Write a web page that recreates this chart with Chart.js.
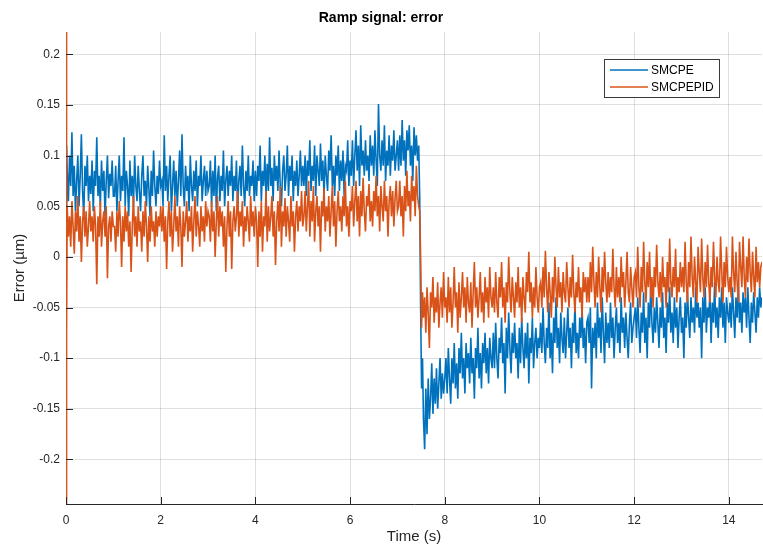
<!DOCTYPE html>
<html><head><meta charset="utf-8">
<script src="https://cdn.jsdelivr.net/npm/chart.js@4"></script>
<style>html,body{margin:0;padding:0;background:#fff}canvas{display:block}</style>
</head><body>
<canvas id="c" width="763" height="546"></canvas>
<script>
const chartTitle = 'Ramp signal: error';
const xLabel = 'Time (s)';
const yLabel = 'Error (µm)';
const seriesNames = ['SMCPE', 'SMCPEPID'];
const seriesColors = ['#0072BD', '#D95319'];
const xTicks = [0, 2, 4, 6, 8, 10, 12, 14];
const xTickLabels = ['0', '2', '4', '6', '8', '10', '12', '14'];
const yTicks = [-0.2, -0.15, -0.1, -0.05, 0, 0.05, 0.1, 0.15, 0.2];
const yTickLabels = ['-0.2', '-0.15', '-0.1', '-0.05', '0', '0.05', '0.1', '0.15', '0.2'];
const xRange = [0, 14.7];
const yRange = [-0.244, 0.222];

const time = [
  0, 0.008, 0.016,
  0.025,0.05,0.075,0.1,0.125,0.15,0.175,0.2,0.225,0.25,0.275,0.3,0.325,0.35,0.375,0.4,0.425,0.45,0.475,0.5,0.525,0.55,0.575,0.6,0.625,0.65,0.675,0.7,0.725,0.75,0.775,0.8,0.825,0.85,0.875,0.9,0.925,0.95,0.975,1,
  1.025,1.05,1.075,1.1,1.125,1.15,1.175,1.2,1.225,1.25,1.275,1.3,1.325,1.35,1.375,1.4,1.425,1.45,1.475,1.5,1.525,1.55,1.575,1.6,1.625,1.65,1.675,1.7,1.725,1.75,1.775,1.8,1.825,1.85,1.875,1.9,1.925,1.95,1.975,2,
  2.025,2.05,2.075,2.1,2.125,2.15,2.175,2.2,2.225,2.25,2.275,2.3,2.325,2.35,2.375,2.4,2.425,2.45,2.475,2.5,2.525,2.55,2.575,2.6,2.625,2.65,2.675,2.7,2.725,2.75,2.775,2.8,2.825,2.85,2.875,2.9,2.925,2.95,2.975,3,
  3.025,3.05,3.075,3.1,3.125,3.15,3.175,3.2,3.225,3.25,3.275,3.3,3.325,3.35,3.375,3.4,3.425,3.45,3.475,3.5,3.525,3.55,3.575,3.6,3.625,3.65,3.675,3.7,3.725,3.75,3.775,3.8,3.825,3.85,3.875,3.9,3.925,3.95,3.975,4,
  4.025,4.05,4.075,4.1,4.125,4.15,4.175,4.2,4.225,4.25,4.275,4.3,4.325,4.35,4.375,4.4,4.425,4.45,4.475,4.5,4.525,4.55,4.575,4.6,4.625,4.65,4.675,4.7,4.725,4.75,4.775,4.8,4.825,4.85,4.875,4.9,4.925,4.95,4.975,5,
  5.025,5.05,5.075,5.1,5.125,5.15,5.175,5.2,5.225,5.25,5.275,5.3,5.325,5.35,5.375,5.4,5.425,5.45,5.475,5.5,5.525,5.55,5.575,5.6,5.625,5.65,5.675,5.7,5.725,5.75,5.775,5.8,5.825,5.85,5.875,5.9,5.925,5.95,5.975,6,
  6.025,6.05,6.075,6.1,6.125,6.15,6.175,6.2,6.225,6.25,6.275,6.3,6.325,6.35,6.375,6.4,6.425,6.45,6.475,6.5,6.525,6.55,6.575,6.6,6.625,6.65,6.675,6.7,6.725,6.75,6.775,6.8,6.825,6.85,6.875,6.9,6.925,6.95,6.975,7,
  7.025,7.05,7.075,7.1,7.125,7.15,7.175,7.2,7.225,7.25,7.275,7.3,7.325,7.35,7.375,7.4,7.425,7.45,
  7.47,7.49,7.51,7.53,
  7.55,7.575,7.6,7.625,7.65,7.675,7.7,7.725,7.75,7.775,7.8,7.825,7.85,7.875,7.9,7.925,7.95,7.975,8,
  8.025,8.05,8.075,8.1,8.125,8.15,8.175,8.2,8.225,8.25,8.275,8.3,8.325,8.35,8.375,8.4,8.425,8.45,8.475,8.5,8.525,8.55,8.575,8.6,8.625,8.65,8.675,8.7,8.725,8.75,8.775,8.8,8.825,8.85,8.875,8.9,8.925,8.95,8.975,9,
  9.025,9.05,9.075,9.1,9.125,9.15,9.175,9.2,9.225,9.25,9.275,9.3,9.325,9.35,9.375,9.4,9.425,9.45,9.475,9.5,9.525,9.55,9.575,9.6,9.625,9.65,9.675,9.7,9.725,9.75,9.775,9.8,9.825,9.85,9.875,9.9,9.925,9.95,9.975,10,
  10.025,10.05,10.075,10.1,10.125,10.15,10.175,10.2,10.225,10.25,10.275,10.3,10.325,10.35,10.375,10.4,10.425,10.45,10.475,10.5,10.525,10.55,10.575,10.6,10.625,10.65,10.675,10.7,10.725,10.75,10.775,10.8,10.825,10.85,10.875,10.9,10.925,10.95,10.975,11,
  11.025,11.05,11.075,11.1,11.125,11.15,11.175,11.2,11.225,11.25,11.275,11.3,11.325,11.35,11.375,11.4,11.425,11.45,11.475,11.5,11.525,11.55,11.575,11.6,11.625,11.65,11.675,11.7,11.725,11.75,11.775,11.8,11.825,11.85,11.875,11.9,11.925,11.95,11.975,12,
  12.025,12.05,12.075,12.1,12.125,12.15,12.175,12.2,12.225,12.25,12.275,12.3,12.325,12.35,12.375,12.4,12.425,12.45,12.475,12.5,12.525,12.55,12.575,12.6,12.625,12.65,12.675,12.7,12.725,12.75,12.775,12.8,12.825,12.85,12.875,12.9,12.925,12.95,12.975,13,
  13.025,13.05,13.075,13.1,13.125,13.15,13.175,13.2,13.225,13.25,13.275,13.3,13.325,13.35,13.375,13.4,13.425,13.45,13.475,13.5,13.525,13.55,13.575,13.6,13.625,13.65,13.675,13.7,13.725,13.75,13.775,13.8,13.825,13.85,13.875,13.9,13.925,13.95,13.975,14,
  14.025,14.05,14.075,14.1,14.125,14.15,14.175,14.2,14.225,14.25,14.275,14.3,14.325,14.35,14.375,14.4,14.425,14.45,14.475,14.5,14.525,14.55,14.575,14.6,14.625,14.65,14.675,14.7
];

const smcpe = [
  .02,.09,.11,
  .085,.055,.1,.07,.123,.06,.09,.045,.075,.1,.05,.08,.121,.065,.04,.09,.07,.1,.055,.08,.062,.095,.045,.085,.07,.118,.06,.08,.05,.095,.065,.085,.04,.075,.1,.058,.082,.07,.095,.06,
  .06,.09,.045,.075,.1,.055,.08,.065,.118,.05,.085,.07,.04,.095,.06,.08,.05,.1,.07,.055,.09,.065,.045,.08,.1,.06,.075,.05,.09,.068,.04,.085,.06,.105,.07,.05,.08,.062,.095,.07,
  .075,.05,.12,.065,.09,.055,.08,.1,.045,.07,.095,.06,.085,.05,.075,.105,.06,.121,.07,.05,.09,.065,.08,.045,.1,.07,.055,.085,.065,.095,.05,.08,.07,.1,.055,.075,.09,.06,.085,.065,
  .07,.095,.05,.085,.06,.1,.045,.078,.09,.055,.08,.065,.105,.05,.075,.09,.06,.085,.07,.1,.055,.08,.065,.095,.045,.075,.09,.06,.11,.07,.05,.085,.065,.1,.06,.08,.07,.095,.055,.085,
  .06,.09,.075,.11,.055,.085,.07,.1,.06,.092,.065,.118,.07,.088,.055,.1,.075,.09,.065,.105,.07,.05,.085,.1,.065,.08,.11,.06,.09,.075,.1,.055,.085,.07,.095,.06,.08,.105,.07,.09,
  .07,.1,.06,.095,.08,.115,.065,.09,.075,.11,.06,.1,.085,.07,.112,.075,.095,.06,.1,.08,.065,.105,.085,.12,.07,.09,.06,.1,.08,.11,.065,.095,.075,.105,.06,.09,.085,.115,.07,.095,
  .08,.115,.07,.1,.125,.085,.11,.07,.13,.09,.105,.08,.115,.085,.1,.075,.12,.09,.11,.08,.125,.095,.07,.151,.1,.085,.115,.09,.13,.075,.105,.09,.12,.08,.11,.095,.125,.085,.1,.115,
  .085,.12,.09,.135,.095,.115,.08,.125,.105,.13,.09,.11,.075,.128,.1,.12,.095,.11,
  .06,-.05,-.13,-.1,
  -.16,-.19,-.13,-.175,-.12,-.16,-.14,-.105,-.155,-.12,-.145,-.11,-.15,-.125,-.1,-.14,-.115,-.135,-.12,
  -.1,-.135,-.09,-.12,-.145,-.1,-.125,-.085,-.13,-.105,-.14,-.09,-.115,-.075,-.12,-.1,-.135,-.085,-.11,-.095,-.125,-.08,-.115,-.1,-.14,-.09,-.11,-.07,-.12,-.095,-.13,-.085,-.105,-.075,-.115,-.09,-.125,-.08,-.1,-.11,
  -.075,-.11,-.065,-.1,-.12,-.08,-.095,-.06,-.105,-.085,-.135,-.07,-.1,-.055,-.09,-.115,-.075,-.095,-.065,-.1,-.085,-.12,-.07,-.105,-.06,-.09,-.11,-.075,-.1,-.065,-.125,-.08,-.095,-.06,-.11,-.085,-.07,-.1,-.08,-.09,
  -.065,-.095,-.05,-.085,-.105,-.07,-.09,-.045,-.1,-.075,-.115,-.06,-.085,-.04,-.09,-.07,-.105,-.055,-.08,-.095,-.06,-.1,-.075,-.05,-.09,-.07,-.11,-.065,-.085,-.045,-.095,-.075,-.1,-.06,-.08,-.05,-.09,-.07,-.105,-.065,
  -.06,-.085,-.05,-.13,-.07,-.09,-.065,-.1,-.045,-.08,-.06,-.095,-.04,-.075,-.105,-.055,-.085,-.065,-.09,-.045,-.08,-.06,-.1,-.07,-.05,-.085,-.065,-.095,-.04,-.075,-.06,-.09,-.055,-.08,-.1,-.065,-.045,-.085,-.07,-.06,
  -.05,-.08,-.04,-.07,-.095,-.055,-.075,-.035,-.085,-.06,-.1,-.045,-.07,-.03,-.065,-.085,-.05,-.075,-.04,-.065,-.09,-.05,-.07,-.035,-.08,-.06,-.095,-.045,-.065,-.03,-.075,-.055,-.085,-.04,-.07,-.05,-.09,-.06,-.04,-.075,
  -.06,-.1,-.045,-.07,-.035,-.06,-.08,-.04,-.065,-.05,-.075,-.03,-.06,-.045,-.07,-.05,-.1,-.04,-.065,-.03,-.075,-.05,-.06,-.035,-.085,-.045,-.065,-.025,-.07,-.05,-.08,-.04,-.06,-.03,-.07,-.045,-.085,-.04,-.055,-.065,
  -.045,-.07,-.03,-.055,-.08,-.04,-.06,-.025,-.065,-.045,-.075,-.035,-.055,-.04,-.07,-.03,-.06,-.085,-.045,-.065,-.035,-.055,-.075,-.04,-.06,-.03,-.05,-.04
];

const smcpepid = [
  .6,-.6,-.08,
  .05,.02,.04,.01,.055,.03,.003,.045,.025,.06,.015,.04,-.005,.035,.05,.02,.045,.01,.03,.055,.025,.04,.015,.05,.03,-.027,.04,.02,.055,.01,.035,.045,.02,.05,-.021,.03,.04,.015,.045,.03,
  .03,.005,.045,.02,.055,.035,-.01,.04,.015,.05,.025,.045,.01,.035,-.015,.03,.06,.02,.04,.01,.05,.025,.035,.005,.045,.02,.055,.03,-.005,.04,.015,.05,.025,.035,.01,.045,.02,.04,.03,.05,
  .025,.05,.015,.04,-.012,.035,.055,.02,.045,.005,.03,.06,.025,.04,.01,.05,.03,-.01,.045,.02,.035,.055,.015,.04,.025,.05,.005,.035,.06,.02,.045,.03,.01,.05,.025,.04,.015,.055,.03,.045,
  .04,.015,.055,.025,.045,.0,.035,.06,.02,.05,.03,.045,.01,.04,-.015,.03,.055,.02,.045,-.012,.035,.05,.025,.04,.065,.02,.045,.03,.055,.01,.04,.025,.05,.035,.015,.06,.03,.045,.02,.05,
  .035,-.01,.045,.02,.055,.005,.04,.03,.065,.015,.05,.025,.04,.06,.02,.045,-.008,.035,.055,.025,.07,.01,.045,.03,.058,.02,.05,.035,.015,.06,.03,.045,.005,.04,.055,.025,.05,.035,.065,.03,
  .04,.065,.025,.05,.075,.02,.055,.035,.07,.015,.045,.06,.03,.05,.005,.055,.04,.068,.025,.05,.035,.06,.02,.045,.07,.03,.055,.01,.045,.065,.035,.05,.025,.06,.04,.075,.03,.05,.02,.055,
  .045,.07,.03,.055,.075,.035,.06,.02,.065,.04,.078,.045,.025,.06,.05,.072,.035,.055,.03,.065,.045,.08,.04,.06,.025,.07,.05,.035,.075,.045,.06,.02,.055,.07,.04,.065,.03,.058,.075,.045,
  .05,.075,.04,.06,.02,.07,.045,.085,.05,.065,.035,.08,.055,.07,.04,.09,.06,.05,
  .045,.0,-.07,-.035,
  -.06,-.04,-.075,-.03,-.055,-.09,-.035,-.05,-.02,-.065,-.04,-.055,-.025,-.07,-.045,-.03,-.06,-.015,-.05,
  -.04,-.065,-.02,-.055,-.03,-.07,-.045,-.01,-.05,-.035,-.075,-.025,-.06,-.04,-.015,-.05,-.03,-.065,-.02,-.045,-.055,-.025,-.07,-.035,-.005,-.05,-.03,-.06,-.04,-.015,-.055,-.035,-.065,-.02,-.045,-.03,-.06,-.01,-.04,-.05,
  -.03,-.055,-.015,-.045,-.06,-.02,-.04,-.005,-.05,-.03,-.065,-.025,-.045,.0,-.035,-.055,-.02,-.04,-.06,-.025,-.045,-.01,-.05,-.03,-.065,-.02,-.04,-.055,-.015,-.035,.005,-.045,-.025,-.06,-.03,-.05,-.01,-.04,-.055,-.03,
  -.025,-.05,-.01,-.04,.006,-.03,-.055,-.015,-.035,-.06,-.02,-.045,.0,-.03,-.05,-.01,-.04,-.025,-.055,-.015,-.035,-.045,-.005,-.03,-.05,-.02,-.04,.002,-.035,-.055,-.025,-.04,-.01,-.045,-.03,-.06,-.015,-.035,-.02,-.045,
  -.02,-.045,-.005,-.035,.01,-.025,-.05,-.015,-.04,.0,-.03,-.055,-.01,-.035,.005,-.025,-.045,-.015,-.04,-.02,-.035,.008,-.03,-.05,-.01,-.04,-.02,-.045,.0,-.03,-.015,-.05,-.025,.005,-.035,-.045,-.01,-.03,-.05,-.02,
  -.015,-.04,.01,-.03,-.05,-.01,-.035,.015,-.025,-.045,-.005,-.03,.005,-.04,-.02,-.05,-.01,-.03,.012,-.025,-.04,-.015,-.045,.0,-.03,-.02,-.05,-.005,-.035,.018,-.025,-.04,-.01,-.03,.008,-.045,-.02,-.035,-.005,-.03,
  -.01,-.035,.015,-.025,-.045,-.005,-.03,.02,-.02,-.04,.0,-.025,-.045,.01,-.015,-.035,.018,-.02,-.04,-.005,-.03,.012,-.025,-.045,-.01,-.03,.015,-.02,-.04,.0,-.025,-.035,.02,-.015,-.045,-.005,-.03,.01,-.02,-.035,
  -.02,-.04,.02,-.015,-.035,.005,-.025,-.045,.015,-.01,-.03,.02,-.02,-.04,.0,-.025,.018,-.015,-.035,.005,-.02,-.04,.01,-.025,-.005,-.03,-.01,-.005
];

const FONT = "'Liberation Sans', Arial, Helvetica, sans-serif";
const TXT = '#262626';

const overlay = {
  id: 'overlay',
  afterDraw(chart) {
    const { ctx, chartArea: a, scales: { x, y } } = chart;
    ctx.save();
    ctx.strokeStyle = TXT;
    ctx.lineWidth = 1;
    ctx.beginPath();
    xTicks.forEach(v => {
      const px = Math.round(x.getPixelForValue(v)) + 0.5;
      ctx.moveTo(px, a.bottom);
      ctx.lineTo(px, a.bottom - 7);
    });
    yTicks.forEach(v => {
      const py = Math.round(y.getPixelForValue(v)) + 0.5;
      ctx.moveTo(a.left, py);
      ctx.lineTo(a.left + 7, py);
    });
    ctx.stroke();
    const bw = 115, bh = 38;
    const bx = Math.round(a.right - 43 - bw) + 0.5;
    const by = Math.round(a.top + 27) + 0.5;
    ctx.fillStyle = '#fff';
    ctx.fillRect(bx, by, bw, bh);
    ctx.strokeStyle = '#3a3a3a';
    ctx.strokeRect(bx, by, bw, bh);
    ctx.font = '12px ' + FONT;
    ctx.textBaseline = 'middle';
    ctx.textAlign = 'left';
    chart.data.datasets.forEach((ds, i) => {
      const ly = by + 10.5 + i * 17;
      ctx.strokeStyle = ds.borderColor;
      ctx.lineWidth = 1.5;
      ctx.beginPath();
      ctx.moveTo(bx + 5.5, ly);
      ctx.lineTo(bx + 43.5, ly);
      ctx.stroke();
      ctx.fillStyle = '#000';
      ctx.fillText(ds.label, bx + 46.5, ly + 0.5);
    });
    ctx.restore();
  }
};

const mkData = vals => time.map((t, i) => ({ x: t, y: vals[i] }));

new Chart(document.getElementById('c'), {
  type: 'line',
  data: {
    datasets: [
      { label: seriesNames[0], data: mkData(smcpe), borderColor: seriesColors[0],
        borderWidth: 1.6, pointRadius: 0, tension: 0, order: 2 },
      { label: seriesNames[1], data: mkData(smcpepid), borderColor: seriesColors[1],
        borderWidth: 1.6, pointRadius: 0, tension: 0, order: 1 }
    ]
  },
  plugins: [overlay],
  options: {
    responsive: false,
    animation: false,
    devicePixelRatio: 1,
    layout: { padding: { left: 0, right: 1, top: 0, bottom: 0 } },
    plugins: {
      legend: { display: false },
      tooltip: { enabled: false },
      title: {
        display: true,
        text: chartTitle,
        color: '#000',
        font: { family: FONT, size: 14, weight: 'bold', lineHeight: 1.2 },
        padding: { top: 10.2, bottom: 5 }
      }
    },
    scales: {
      x: {
        type: 'linear',
        min: xRange[0],
        max: xRange[1],
        afterBuildTicks: s => { s.ticks = xTicks.map(v => ({ value: v })); },
        afterFit: s => { s.height = 42; },
        ticks: {
          autoSkip: false, maxRotation: 0, padding: 9, color: TXT,
          font: { family: FONT, size: 12 },
          callback: v => xTickLabels[xTicks.indexOf(v)]
        },
        grid: { color: 'rgba(38,38,38,0.15)', drawTicks: false },
        border: { display: true, color: TXT, width: 1 },
        title: {
          display: true, text: xLabel, color: TXT,
          font: { family: FONT, size: 15, lineHeight: 1.2 },
          padding: { top: 0, bottom: 0 }
        }
      },
      y: {
        type: 'linear',
        min: yRange[0],
        max: yRange[1],
        afterBuildTicks: s => { s.ticks = yTicks.map(v => ({ value: v })); },
        afterFit: s => { s.width = 66; },
        ticks: {
          autoSkip: false, padding: 6, color: TXT,
          font: { family: FONT, size: 12 },
          callback: v => yTickLabels[yTicks.findIndex(t => Math.abs(t - v) < 1e-9)]
        },
        grid: { color: 'rgba(38,38,38,0.15)', drawTicks: false },
        border: { display: true, color: TXT, width: 1 },
        title: {
          display: true, text: yLabel, color: TXT,
          font: { family: FONT, size: 15, lineHeight: 1.2 },
          padding: { top: 11, bottom: 0 }
        }
      }
    }
  }
});
</script>
</body></html>
